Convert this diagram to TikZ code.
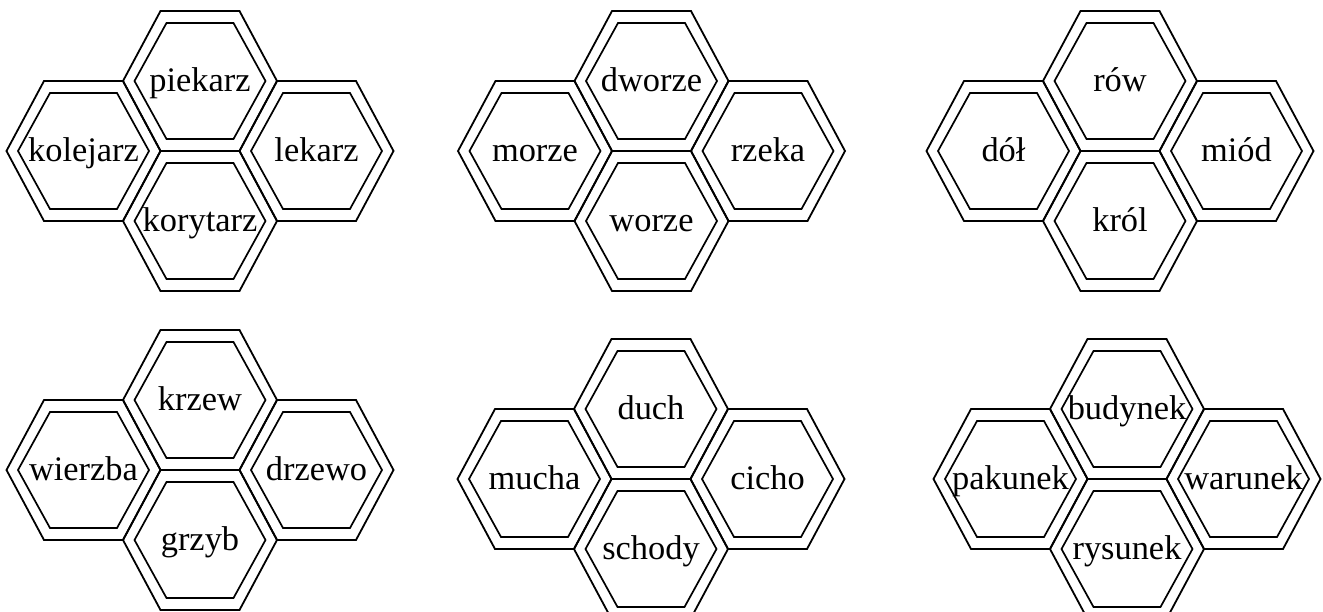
\documentclass[tikz,border=0pt]{standalone}
\usepackage{fontspec}
\setmainfont{Liberation Serif}
\usepackage{tikz}
\usetikzlibrary{positioning}

\tikzset{
  outerhex/.style={line width=0.9pt, line join=miter},
  innerhex/.style={line width=0.85pt, line join=miter},
  wordtext/.style={font=\fontsize{17.2}{19}\selectfont, inner sep=0pt, anchor=base},
}

% one double-outlined hexagon with its word, centred at (#1,#2)
\newcommand{\honeycell}[4]{%
  \begin{scope}[shift={(#1,#2)}]
    \draw[outerhex] (-77,0) -- (-39.5,-70) -- (39.5,-70) -- (77,0) -- (39.5,70) -- (-39.5,70) -- cycle;
    \draw[innerhex] (-65.5,0) -- (-33.5,-58) -- (33.5,-58) -- (65.5,0) -- (33.5,58) -- (-33.5,58) -- cycle;
    \node[wordtext] (#3) at (0,10) {#4};
  \end{scope}
}

\begin{document}
\begin{tikzpicture}[x=0.5pt, y=-0.5pt]
  \useasboundingbox (0,0) rectangle (1323,611);
  \clip (0,0) rectangle (1323,611);

  \foreach \gx/\gy/\n/\wl/\wt/\wr/\wb in {
      200/151/ga/kolejarz/piekarz/lekarz/korytarz,
      651.5/151/gb/morze/dworze/rzeka/worze,
      1120/151/gc/dół/rów/miód/król,
      200/470/gd/wierzba/krzew/drzewo/grzyb,
      651/479/ge/mucha/duch/cicho/schody,
      1127/479/gf/pakunek/budynek/warunek/rysunek} {
    \coordinate (\n) at (\gx,\gy);
    \honeycell{\gx-116.5}{\gy}{\n-left}{\wl}
    \honeycell{\gx}{\gy-70}{\n-top}{\wt}
    \honeycell{\gx+116.5}{\gy}{\n-right}{\wr}
    \honeycell{\gx}{\gy+70}{\n-bottom}{\wb}
  }
\end{tikzpicture}
\end{document}
